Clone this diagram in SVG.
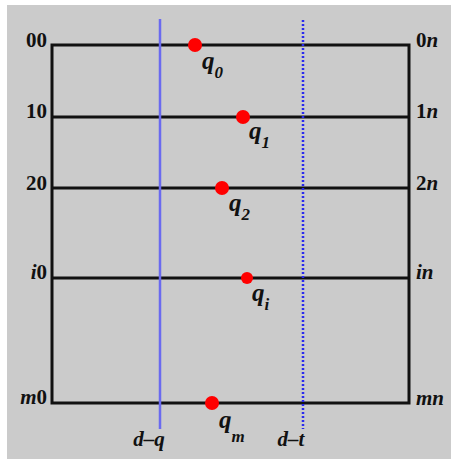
<svg xmlns="http://www.w3.org/2000/svg" width="451" height="459" viewBox="0 0 451 459">
<style>
.lbl{font-family:"Liberation Serif","DejaVu Serif",serif;font-weight:bold;font-size:21px;fill:#111}
.it{font-style:italic}
.q{font-family:"Liberation Serif","DejaVu Serif",serif;font-weight:bold;font-style:italic;font-size:25px;fill:#111}
.sub{font-size:17px}
.grid{stroke:#111;stroke-width:3;fill:none}
.dot{fill:#ff0000}
</style>
<rect x="0" y="0" width="451" height="459" fill="#ffffff"/>
<rect x="7" y="5" width="444" height="454" fill="#cbcbcb"/>
<g id="grid">
<rect class="grid" x="52" y="45" width="357" height="358"/>
<line class="grid" x1="52" y1="117" x2="409" y2="117"/>
<line class="grid" x1="52" y1="188" x2="409" y2="188"/>
<line class="grid" x1="52" y1="278" x2="409" y2="278"/>
</g>
<g id="connectors">
<line id="dq" x1="160" y1="19" x2="160" y2="429" stroke="#6a6af0" stroke-width="2.5"/>
<line id="dt" x1="303" y1="20" x2="303" y2="429" stroke="#2a2aee" stroke-width="2.5" stroke-dasharray="2,2"/>
</g>
<g id="labels-left">
<text class="lbl" x="47" y="47" text-anchor="end">00</text>
<text class="lbl" x="47" y="118" text-anchor="end">10</text>
<text class="lbl" x="47" y="190" text-anchor="end">20</text>
<text class="lbl" x="47" y="279" text-anchor="end"><tspan class="it">i</tspan>0</text>
<text class="lbl" x="47" y="404" text-anchor="end"><tspan class="it">m</tspan>0</text>
</g>
<g id="labels-right">
<text class="lbl" x="416" y="47">0<tspan class="it">n</tspan></text>
<text class="lbl" x="416" y="118">1<tspan class="it">n</tspan></text>
<text class="lbl" x="416" y="190">2<tspan class="it">n</tspan></text>
<text class="lbl" x="416" y="279"><tspan class="it">in</tspan></text>
<text class="lbl" x="416" y="405"><tspan class="it">mn</tspan></text>
</g>
<g id="q0"><circle class="dot" cx="195" cy="45" r="7"/><text class="q" x="202" y="69">q<tspan class="sub" dx="0" dy="9">0</tspan></text></g>
<g id="q1"><circle class="dot" cx="243" cy="117" r="7"/><text class="q" x="249" y="139">q<tspan class="sub" dy="9">1</tspan></text></g>
<g id="q2"><circle class="dot" cx="222" cy="188" r="7"/><text class="q" x="229" y="211">q<tspan class="sub" dy="9">2</tspan></text></g>
<g id="qi"><circle class="dot" cx="247" cy="278" r="6"/><text class="q" x="252" y="301">q<tspan class="sub" dy="9">i</tspan></text></g>
<g id="qm"><circle class="dot" cx="212" cy="403" r="7"/><text class="q" x="219" y="428">q<tspan class="sub" dy="14">m</tspan></text></g>
<g id="axis-labels">
<text class="lbl it" x="149" y="446" text-anchor="middle">d–q</text>
<text class="lbl it" x="291" y="446" text-anchor="middle">d–t</text>
</g>
</svg>
